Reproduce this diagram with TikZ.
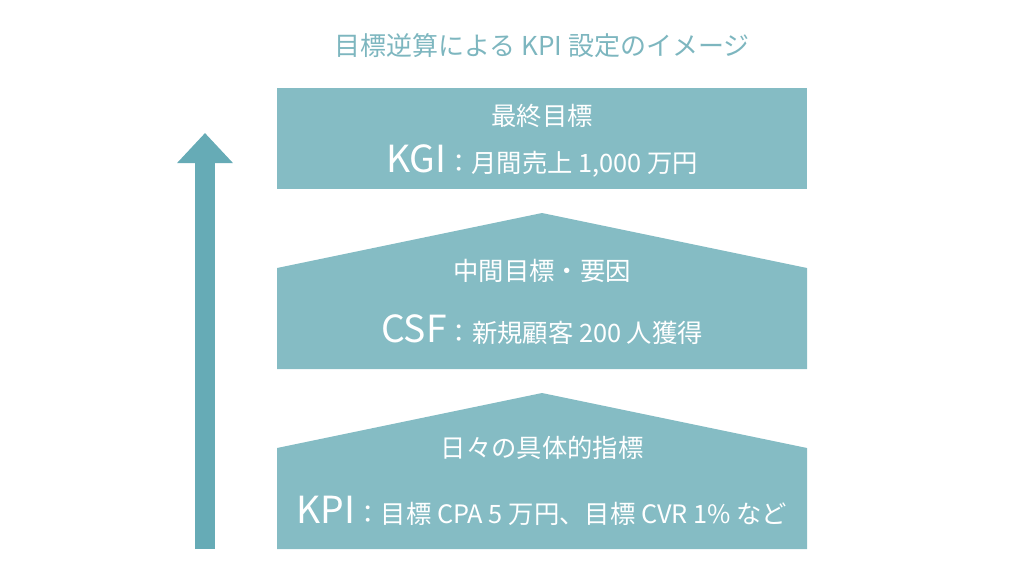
\documentclass[tikz,border=0pt]{standalone}
\usepackage{fontspec}
\setmainfont{Noto Sans CJK JP}
\usetikzlibrary{arrows.meta}
\definecolor{boxteal}{HTML}{85BCC4}
\definecolor{arrowteal}{HTML}{66ABB6}
\definecolor{titleteal}{HTML}{7DB6BF}
\newcommand{\bigtag}[1]{{\fontsize{28}{30}\selectfont #1}}

\begin{document}
\begin{tikzpicture}[x=0.75pt, y=-0.75pt,
    heading/.style={anchor=base, text=titleteal, font=\fontsize{19.5}{21}\selectfont},
    caption/.style={anchor=base, text=white, font=\fontsize{19}{22}\selectfont}]
	  \useasboundingbox (0,0) rectangle (1024,576);
	  \fill [boxteal] (277,88) rectangle (807,189);
	  \fill [boxteal] (277,268) -- (542,213) -- (807,268) -- (807,369) -- (277,369) -- cycle;
	  \fill [boxteal] (277,448) -- (542,393) -- (807,448) -- (807,549) -- (277,549) -- cycle;
	  \coordinate (foot) at (205,549);
	  \coordinate (tip) at (205,133);
	  \draw [arrowteal, line width=15pt, -{Triangle[width=40.5pt, length=22.5pt]}] (foot) -- (tip);
	  \node [heading] (title) at (542,55) {目標逆算による KPI 設定のイメージ};
	  \node [caption] (kgihead) at (542,125) {最終目標};
	  \node [caption] (kgi) at (542,172) {\bigtag{KGI}：月間売上 1,000 万円};
	  \node [caption] (csfhead) at (542,280) {中間目標・要因};
	  \node [caption] (csf) at (542,342) {\bigtag{CSF}：新規顧客 200 人獲得};
	  \node [caption] (kpihead) at (542,457) {日々の具体的指標};
	  \node [caption] (kpi) at (542,523) {\bigtag{KPI}：目標 CPA 5 万円、目標 CVR 1\% など};
	 \end{tikzpicture}
\end{document}
